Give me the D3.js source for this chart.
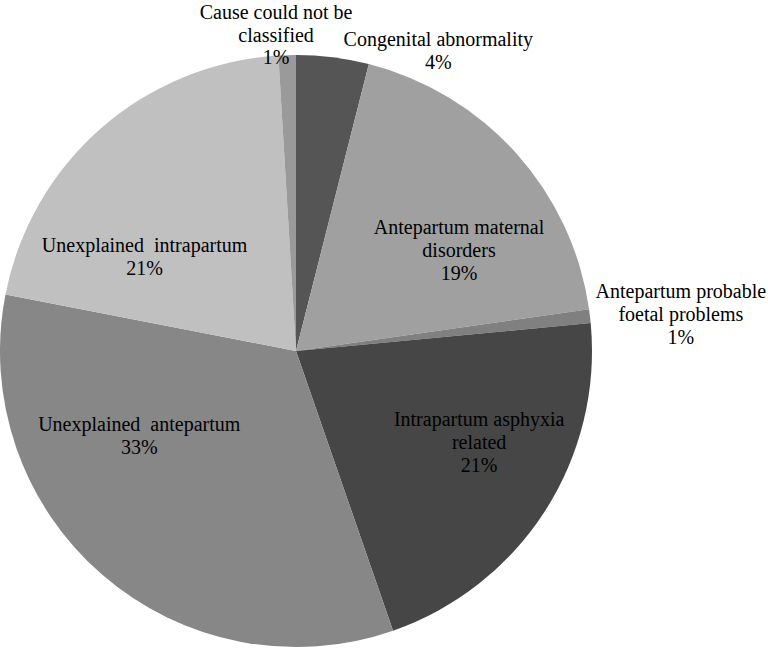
<!DOCTYPE html>
<html>
<head>
<meta charset="utf-8">
<script src="https://cdn.jsdelivr.net/npm/d3@7"></script>
<style>
  html, body { margin: 0; padding: 0; background: #fff; }
  svg { display: block; }
  text { font-family: "Liberation Serif", "Times New Roman", serif; font-size: 20px; fill: #000; white-space: pre; }
</style>
</head>
<body>
<svg id="chart"></svg>
<script>
// dimensioni della finestra
let width = 768;
let height = 648;

// dati (in senso orario a partire da ore 12)
const categories = [
  "Congenital abnormality",
  "Antepartum maternal\ndisorders",
  "Antepartum probable\nfoetal problems",
  "Intrapartum asphyxia\nrelated",
  "Unexplained  antepartum",
  "Unexplained  intrapartum",
  "Cause could not be\nclassified"
];
const values = [3.96, 18.8, 0.75, 21.2, 33.4, 21.0, 0.95];
const percentLabels = ["4%", "19%", "1%", "21%", "33%", "21%", "1%"];

// colori delle fette
const shades = ["#555555", "#a0a0a0", "#808080", "#464646", "#878787", "#c0c0c0", "#9a9a9a"];

// posizione delle etichette: angolo (gradi, da ore 12) e distanza in frazioni del raggio
const labelAngle = [25.4, 58.2, 84.6, 116.6, 241.6, 301.8, 356.4];
const labelDist = [1.121, 0.648, 1.306, 0.692, 0.602, 0.602, 1.07];

const cx = 296, cy = 351, radius = 296;
const lineHeight = 23;

const svg = d3.select("#chart")
  .attr("width", width)
  .attr("height", height);

const color = d3.scaleOrdinal().domain(d3.range(values.length)).range(shades);

const pie = d3.pie().sort(null).value(d => d.value);
const arc = d3.arc().innerRadius(0).outerRadius(radius);

const data = values.map((v, i) => ({ value: v, i: i }));
const arcs = pie(data);

const g = svg.append("g").attr("transform", `translate(${cx},${cy})`);

// fette della torta
g.selectAll("path")
  .data(arcs)
  .join("path")
  .attr("d", arc)
  .attr("fill", d => color(d.data.i));

// etichette (nome + percentuale)
const label = g.selectAll("text.lbl")
  .data(arcs)
  .join("text")
  .attr("class", "lbl")
  .attr("text-anchor", "middle")
  .attr("transform", d => {
    const p = d3.pointRadial(labelAngle[d.data.i] * Math.PI / 180, labelDist[d.data.i] * radius);
    return `translate(${p[0]},${p[1]})`;
  });

label.each(function(d) {
  const lines = categories[d.data.i].split("\n").concat([percentLabels[d.data.i]]);
  const n = lines.length;
  d3.select(this).selectAll("tspan")
    .data(lines)
    .join("tspan")
    .attr("x", 0)
    .attr("y", (t, k) => (k - (n - 1) / 2) * lineHeight + 6.6)
    .text(t => t);
});
</script>
</body>
</html>
